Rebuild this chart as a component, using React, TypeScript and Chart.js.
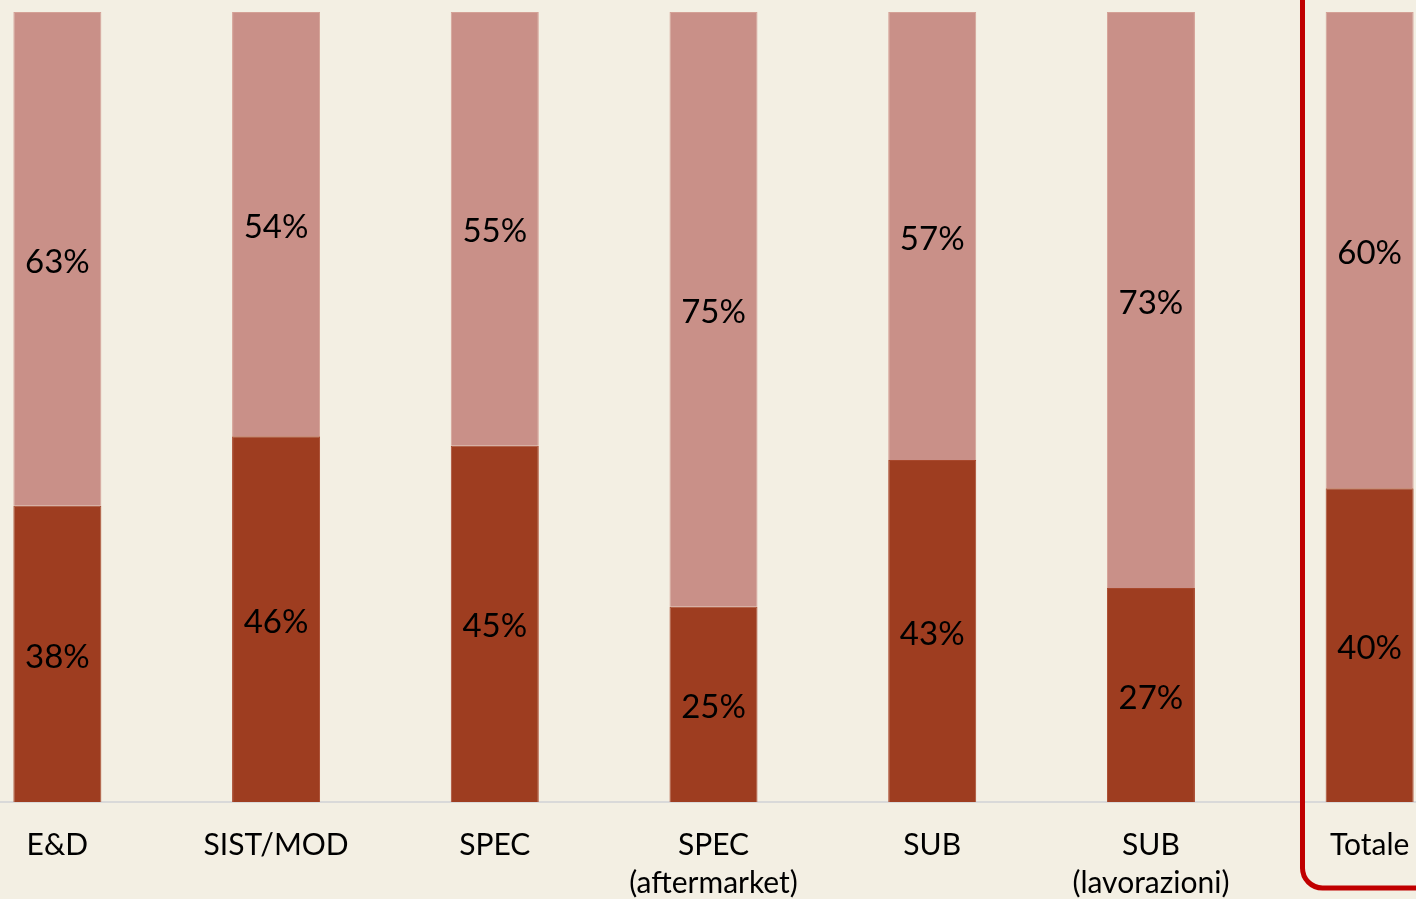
import React, { useEffect, useRef } from "react";
import { Chart, registerables } from "chart.js";

Chart.register(...registerables);

const categories: (string | string[])[] = [
  "E&D",
  "SIST/MOD",
  "SPEC",
  ["SPEC", "(aftermarket)"],
  "SUB",
  ["SUB", "(lavorazioni)"],
  "Totale",
];
const lowerShare = [37.5, 46.3, 45.1, 24.7, 43.3, 27.1, 39.7];
const upperShare = [62.5, 53.7, 54.9, 75.3, 56.7, 72.9, 60.3];

const BG = "#F3EFE3";
const DARK = "#9E3D20";
const LIGHT = "#C99088";
const FONT = "Lato, 'Open Sans', sans-serif";

const valueLabels = {
  id: "valueLabels",
  afterDatasetsDraw(chart: any) {
    const ctx = chart.ctx;
    ctx.save();
    ctx.font = `33px ${FONT}`;
    ctx.fillStyle = "#000";
    ctx.textAlign = "center";
    ctx.textBaseline = "middle";
    chart.data.datasets.forEach((ds: any, i: number) => {
      const meta = chart.getDatasetMeta(i);
      meta.data.forEach((bar: any, j: number) => {
        const v = ds.data[j];
        const y = (bar.y + bar.base) / 2;
        ctx.fillText(`${Math.round(v)}%`, bar.x, y + 3);
      });
    });
    ctx.restore();
  },
};

const highlightBox = {
  id: "highlightBox",
  afterDraw(chart: any) {
    const ctx = chart.ctx;
    const xs = chart.scales.x;
    const last = categories.length - 1;
    const cx = xs.getPixelForValue(last);
    const step = xs.getPixelForValue(1) - xs.getPixelForValue(0);
    const left = cx - step * 0.307;
    const right = cx + step * 0.6;
    const top = -20;
    const bottom = chart.height - 11;
    const r = 20;
    ctx.save();
    ctx.strokeStyle = "#C00000";
    ctx.lineWidth = 5;
    ctx.beginPath();
    ctx.moveTo(left, top);
    ctx.lineTo(left, bottom - r);
    ctx.arcTo(left, bottom, left + r, bottom, r);
    ctx.lineTo(right, bottom);
    ctx.stroke();
    ctx.restore();
  },
};

export default function App() {
  const ref = useRef<HTMLCanvasElement>(null);

  useEffect(() => {
    if (!ref.current) return;
    const chart = new Chart(ref.current, {
      type: "bar",
      data: {
        labels: categories,
        datasets: [
          {
            label: "lower",
            data: lowerShare,
            backgroundColor: DARK,
            borderColor: "#A8482C",
            borderWidth: 1,
            barPercentage: 0.4024,
            categoryPercentage: 1,
          },
          {
            label: "upper",
            data: upperShare,
            backgroundColor: LIGHT,
            borderColor: "#D4A196",
            borderWidth: 1,
            barPercentage: 0.4024,
            categoryPercentage: 1,
          },
        ],
      },
      options: {
        responsive: false,
        animation: false,
        layout: { padding: { top: 12, left: 0, right: 0, bottom: 0 } },
        plugins: {
          legend: { display: false },
          tooltip: { enabled: false },
        },
        scales: {
          x: {
            stacked: true,
            grid: { display: false, drawTicks: false },
            border: { display: true, color: "#D9D9D9", width: 2 },
            ticks: {
              color: "#000",
              font: { family: FONT, size: 30, lineHeight: 1.267 },
              padding: 24,
              maxRotation: 0,
              autoSkip: false,
            },
            afterFit(scale: any) {
              scale.height = 97;
            },
          },
          y: {
            stacked: true,
            display: false,
            min: 0,
            max: 100,
          },
        },
      },
      plugins: [valueLabels, highlightBox],
    });
    return () => chart.destroy();
  }, []);

  return (
    <div
      style={{
        position: "fixed",
        left: 0,
        top: 0,
        width: 1416,
        height: 899,
        overflow: "hidden",
        background: BG,
      }}
    >
      <canvas
        ref={ref}
        width={1531}
        height={899}
        style={{ position: "absolute", left: -52, top: 0, width: 1531, height: 899 }}
      />
    </div>
  );
}
